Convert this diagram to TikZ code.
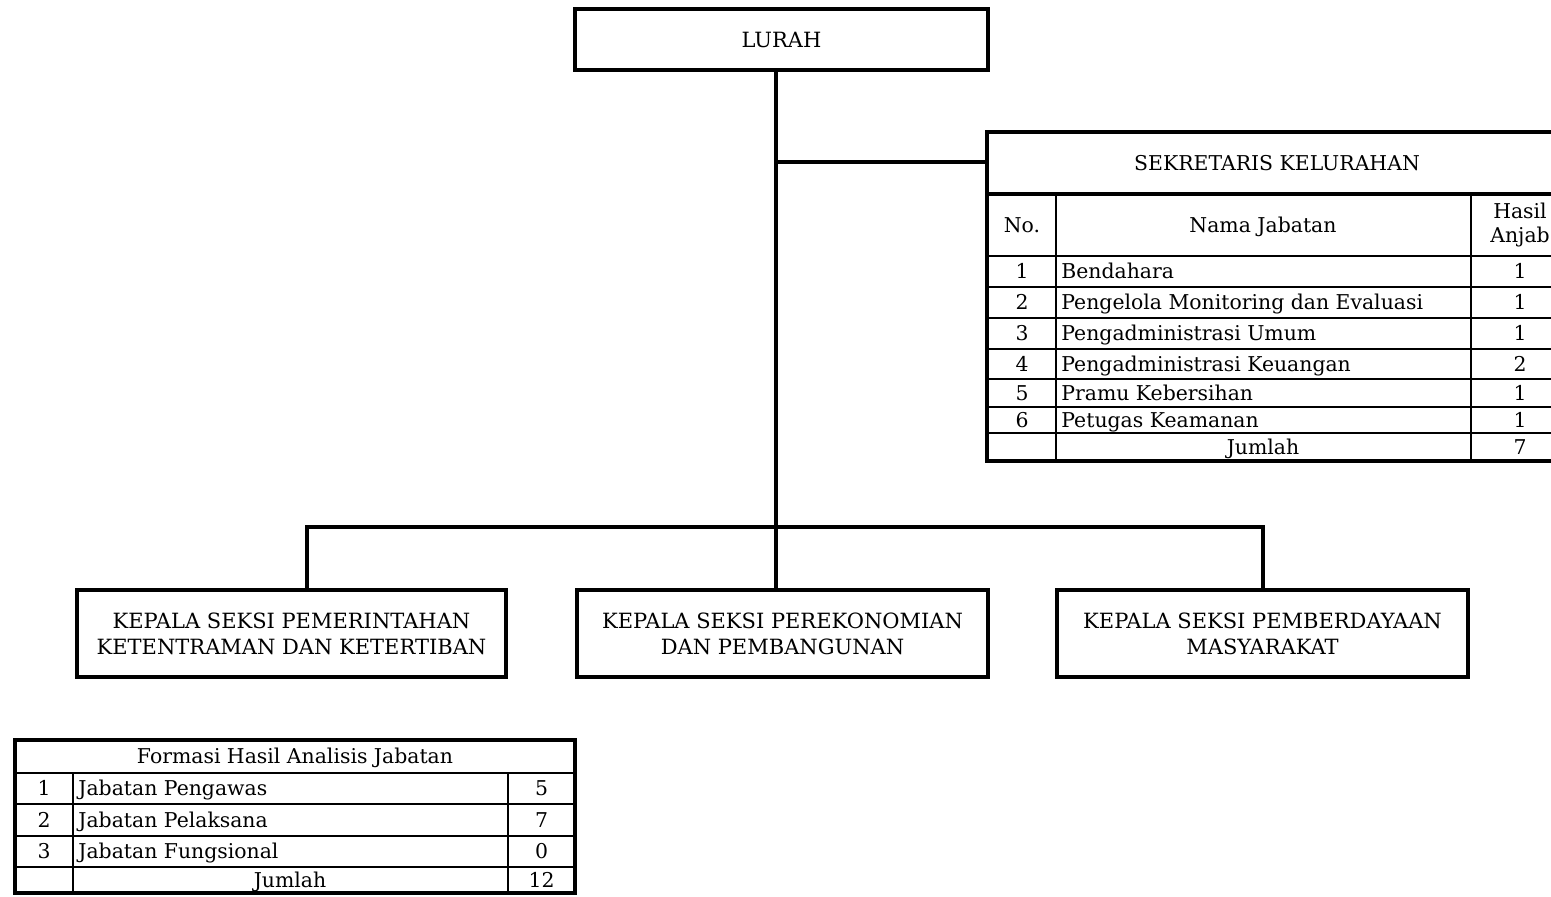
\documentclass[tikz,border=0pt]{standalone}
\usepackage{fontspec}
\setmainfont{DejaVu Serif}
\begin{document}
\begin{tikzpicture}[x=0.5pt,y=-0.5pt,
  thk/.style={line width=2.4pt},
  thn/.style={line width=0.9pt},
  conn/.style={line width=2.3pt},
  box/.style={draw,line width=2.4pt,inner sep=0pt,align=center,font=\fontsize{10.5}{13}\selectfont},
  txt/.style={inner sep=0pt,text height=7.4pt,text depth=0pt,font=\fontsize{10.2}{11.2}\selectfont},
  txtl/.style={txt,anchor=west}]
\useasboundingbox (0,0) rectangle (1551,896);
% LURAH
\node[box,minimum width=206.5pt,minimum height=30.5pt] (lurah) at (781.5,39.5) {LURAH};
% Sekretaris table
\coordinate (sekL) at (987,162);
\node[txt] (sek) at (1277,163) {SEKRETARIS KELURAHAN};
\draw[thk] (1580,132) -- (987,132) -- (987,461) -- (1580,461);
\draw[thk] (987,194) -- (1580,194);
\foreach \yy in {256,287,318,349,379,407,433} \draw[thn] (987,\yy) -- (1580,\yy);
\draw[thn] (1056,194) -- (1056,461);
\draw[thn] (1471,194) -- (1471,461);
\node[txt] (hno) at (1022,225) {No.};
\node[txt] (hnama) at (1263,225) {Nama Jabatan};
\node[txt,align=center,text height=,text depth=,font=\fontsize{10.2}{11.8}\selectfont] (hhasil) at (1520,225) {Hasil\\Anjab};
\foreach \n/\yy/\nm/\v in {1/271.5/Bendahara/1, 2/302.5/Pengelola Monitoring dan Evaluasi/1, 3/333.5/Pengadministrasi Umum/1, 4/364/Pengadministrasi Keuangan/2, 5/393/Pramu Kebersihan/1, 6/420/Petugas Keamanan/1}{
  \node[txt] (sn\n) at (1022,\yy) {\n};
  \node[txtl] (snm\n) at (1061,\yy) {\nm};
  \node[txt] (sv\n) at (1520,\yy) {\v};
}
\node[txt] (sjml) at (1263,447) {Jumlah};
\node[txt] (sjv) at (1520,447) {7};
% Kepala seksi boxes
\node[box,minimum width=214.5pt,minimum height=43.5pt] (ks1) at (291.5,633.5) {KEPALA SEKSI PEMERINTAHAN\\KETENTRAMAN DAN KETERTIBAN};
\node[box,minimum width=205.5pt,minimum height=43.5pt] (ks2) at (782.5,633.5) {KEPALA SEKSI PEREKONOMIAN\\DAN PEMBANGUNAN};
\node[box,minimum width=205.5pt,minimum height=43.5pt] (ks3) at (1262.5,633.5) {KEPALA SEKSI PEMBERDAYAAN\\MASYARAKAT};
% connectors
\coordinate (j1) at (307,527);
\coordinate (j2) at (776,527);
\coordinate (j3) at (1263,527);
\draw[conn] (lurah.south -| j2) -- (ks2.north -| j2);
\draw[conn] (j2 |- sekL) -- (sekL);
\draw[conn] (ks1.north -| j1) -- (j1) -- (j3) -- (ks3.north -| j3);
% Formasi table
\draw[thk] (15,740) rectangle (575,893);
\foreach \yy in {773,804,836,867} \draw[thn] (15,\yy) -- (575,\yy);
\draw[thn] (73,773) -- (73,893);
\draw[thn] (508,773) -- (508,893);
\node[txt] (ftitle) at (295,756.5) {Formasi Hasil Analisis Jabatan};
\foreach \n/\yy/\nm/\v in {1/788.5/Jabatan Pengawas/5, 2/820/Jabatan Pelaksana/7, 3/851.5/Jabatan Fungsional/0}{
  \node[txt] (fn\n) at (44,\yy) {\n};
  \node[txtl] (fnm\n) at (78,\yy) {\nm};
  \node[txt] (fv\n) at (541.5,\yy) {\v};
}
\node[txt] (fjml) at (290,880) {Jumlah};
\node[txt] (fjv) at (541.5,880) {12};
\end{tikzpicture}
\end{document}
